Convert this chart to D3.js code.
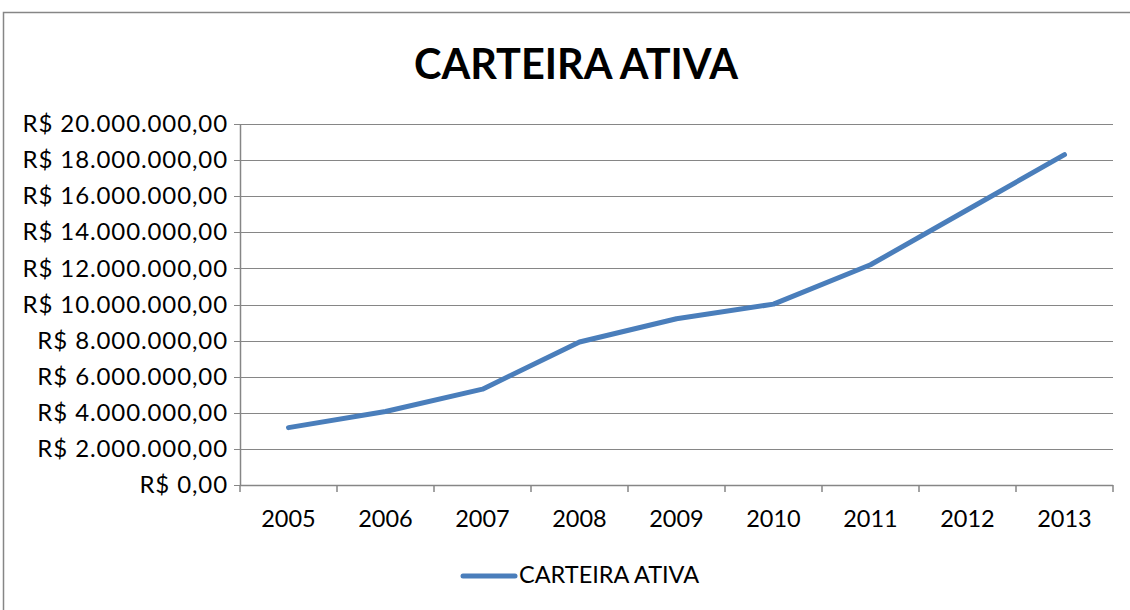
<!DOCTYPE html>
<html>
<head>
<meta charset="utf-8">
<script src="https://cdn.jsdelivr.net/npm/d3@7"></script>
<style>
  body { margin: 0; background: #fff; }
  text { font-family: Lato, "Open Sans", sans-serif; fill: #000; }
</style>
</head>
<body>
<svg id="chart"></svg>
<script>
// data
const years = ["2005", "2006", "2007", "2008", "2009", "2010", "2011", "2012", "2013"];
const carteira = [3180000, 4070000, 5310000, 7920000, 9210000, 10020000, 12200000, 15250000, 18300000];
const yTicks = [0, 2e6, 4e6, 6e6, 8e6, 10e6, 12e6, 14e6, 16e6, 18e6, 20e6];
const seriesName = "CARTEIRA ATIVA";

const W = 1130, H = 610;
const margin = { top: 124, right: 17, bottom: 125, left: 240 },
      width = W - margin.left - margin.right,
      height = H - margin.top - margin.bottom;

const svg = d3.select("#chart").attr("width", W).attr("height", H);

// outer chart border
svg.append("rect")
    .attr("x", 3.5).attr("y", 12.5)
    .attr("width", W + 10).attr("height", H)
    .attr("fill", "none").attr("stroke", "#868686").attr("stroke-width", 1.5);

svg.append("text")
    .attr("x", 576).attr("y", 79)
    .attr("text-anchor", "middle")
    .style("font-size", "42px").style("font-weight", "bold")
    .attr("textLength", 324).attr("lengthAdjust", "spacingAndGlyphs")
    .text(seriesName);

const g = svg.append("g").attr("transform", "translate(" + margin.left + "," + margin.top + ")");

const x = d3.scaleBand().domain(years).range([0, width]);
const y = d3.scaleLinear().domain([0, 20e6]).range([height, 0]);

const fmt = v => "R$ " + d3.format(",.2f")(v).replace(/,/g, "#").replace(".", ",").replace(/#/g, ".");

// gridlines
g.append("g")
  .selectAll("line")
  .data(yTicks)
  .enter().append("line")
    .attr("x1", -6).attr("x2", width)
    .attr("y1", d => Math.round(y(d)) + 0.5).attr("y2", d => Math.round(y(d)) + 0.5)
    .attr("stroke", "#868686").attr("stroke-width", 1.2);

// y axis
const yAxis = g.append("g")
    .call(d3.axisLeft(y).tickValues(yTicks).tickSize(0).tickPadding(12).tickFormat(fmt));
yAxis.select(".domain").attr("stroke", "#868686").attr("stroke-width", 1.5);
yAxis.selectAll("text")
    .style("font-size", "24px").style("letter-spacing", "0.9px")
    .attr("fill", "#000");

// x axis
const xAxis = g.append("g")
    .attr("transform", "translate(0," + height + ")")
    .call(d3.axisBottom(x).tickSize(0).tickPadding(25));
xAxis.select(".domain").remove();
xAxis.selectAll("text").style("font-size", "23.5px").attr("fill", "#000");
g.append("g")
  .selectAll("line")
  .data(years.concat(["end"]))
  .enter().append("line")
    .attr("x1", (d, i) => i * x.step()).attr("x2", (d, i) => i * x.step())
    .attr("y1", height).attr("y2", height + 7)
    .attr("stroke", "#868686").attr("stroke-width", 1.5);
g.append("line")
    .attr("x1", 0).attr("x2", width).attr("y1", height + 0.5).attr("y2", height + 0.5)
    .attr("stroke", "#868686").attr("stroke-width", 1.5);

// series
const line = d3.line()
    .x((d, i) => x(years[i]) + x.bandwidth() / 2)
    .y(d => y(d));

g.append("path")
    .datum(carteira)
    .attr("fill", "none")
    .attr("stroke", "#4A7EBB")
    .attr("stroke-width", 5)
    .attr("stroke-linecap", "round")
    .attr("stroke-linejoin", "round")
    .attr("d", line);

// legend
const lg = svg.append("g").attr("transform", "translate(463,576)");
lg.append("line").attr("x1", 0).attr("x2", 52).attr("y1", 0).attr("y2", 0)
    .attr("stroke", "#4A7EBB").attr("stroke-width", 5).attr("stroke-linecap", "round");
lg.append("text").attr("x", 56).attr("y", 7).style("font-size", "23.5px").text(seriesName);
</script>
</body>
</html>
